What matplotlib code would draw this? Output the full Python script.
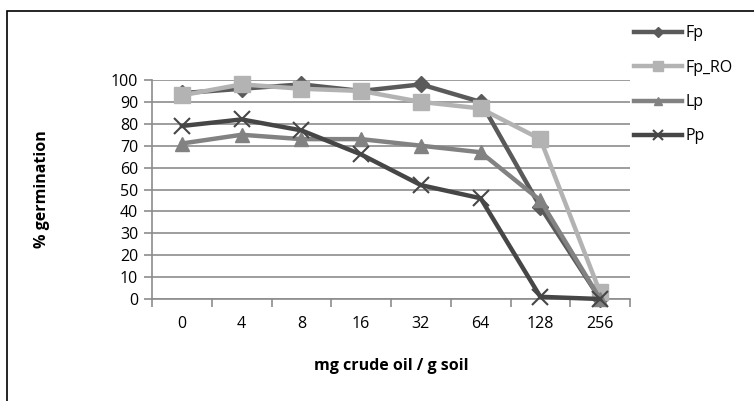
import matplotlib
matplotlib.use("Agg")
import matplotlib.pyplot as plt
from matplotlib.patches import Rectangle

categories = ["0", "4", "8", "16", "32", "64", "128", "256"]
fp = [94, 96, 98, 95, 98, 90, 42, 0]
fp_ro = [93, 98, 96, 95, 90, 87, 73, 3]
lp = [71, 75, 73, 73, 70, 67, 45, 0]
pp = [79, 82, 77, 66, 52, 46, 1, 0]

GRID = "#8c8c8c"
plt.rcParams.update({"font.family": ["Open Sans", "DejaVu Sans"], "font.size": 11.5})

W, H = 754, 401
fig = plt.figure(figsize=(W / 100, H / 100), dpi=100)
ax = fig.add_axes([152 / W, 1 - 299 / H, (630 - 152) / W, (299 - 80) / H])

x = list(range(len(categories)))
series = [
    (fp, "Fp", "#5a5a5a", "D", 8),
    (fp_ro, "Fp_RO", "#b3b3b3", "s", 11),
    (lp, "Lp", "#828282", "^", 10),
    (pp, "Pp", "#464646", "x", 11),
]
for vals, label, color, mk, ms in series:
    ax.plot(x, vals, color=color, lw=3.2, marker=mk, ms=ms, mew=1.5 if mk == "x" else 1,
            mec=color, mfc=color, label=label, clip_on=False, zorder=3)

ax.set_xlim(-0.5, len(categories) - 0.5)
ax.set_ylim(0, 100)
ax.set_yticks(range(0, 101, 10))
ax.set_xticks(x)
ax.set_xticklabels(categories)
ax.set_xticks([i - 0.5 for i in range(len(categories) + 1)], minor=True)
ax.grid(True, axis="y", color=GRID, lw=1.2)
ax.set_axisbelow(True)
for s in ("top", "right"):
    ax.spines[s].set_visible(False)
for s in ("left", "bottom"):
    ax.spines[s].set_color(GRID)
    ax.spines[s].set_linewidth(1.2)
ax.tick_params(axis="x", which="major", length=0, pad=12)
ax.tick_params(axis="x", which="minor", length=6, color=GRID, width=1.2)
ax.tick_params(axis="y", length=6, color=GRID, width=1.2, pad=4)

ax.set_xlabel("mg crude oil / g soil", fontweight="bold")
ax.set_ylabel("% germination", fontweight="bold")
ax.xaxis.set_label_coords(0.5, -(366 - 299) / 219, transform=ax.transAxes)
ax.yaxis.set_label_coords(-(152 - 42) / 478, 0.5, transform=ax.transAxes)
ax.xaxis.label.set_va("center")
ax.yaxis.label.set_va("center")

leg = fig.legend(loc="upper left", bbox_to_anchor=(628 / W, 1 - 19 / H), frameon=False,
                 handlelength=3.0, handletextpad=0.2, labelspacing=1.15, markerscale=0.6,
                 borderaxespad=0)

fig.patches.append(Rectangle((7 / W, -0.1), 1.2, 1 - 11 / H + 0.1, transform=fig.transFigure,
                             fill=False, edgecolor="black", lw=1.2))

fig.savefig("out.png", dpi=100)
